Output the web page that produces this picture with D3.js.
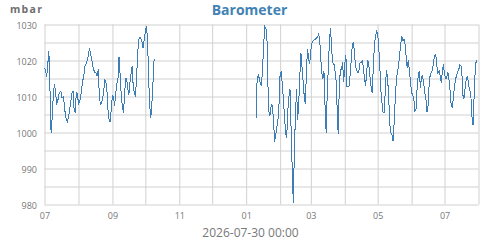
<!DOCTYPE html>
<html>
<head>
<meta charset="utf-8">
<script src="https://cdn.jsdelivr.net/npm/d3@7"></script>
<style>
	body { margin: 0; background: #fff; }
	text { font-family: "Open Sans", sans-serif; }
</style>
</head>
<body>
<script>
// daily barometer readings, mbar
var seg1Start = "2025-07-01";
var seg1Values = [
	1018, 1017, 1015.5, 1019, 1022.5, 1012, 1000, 1004, 1010, 1013.5,
	1011.5, 1008, 1008.5, 1010.5, 1011.2, 1011.3, 1009.5, 1010, 1008, 1005,
	1003.5, 1003, 1004.5, 1006.5, 1008.5, 1011, 1011.5, 1006.5, 1005.5, 1011,
	1010.8, 1008, 1008.5, 1010, 1012.5, 1014.5, 1016, 1018.5, 1019, 1020,
	1021.5, 1023.4, 1022, 1020.5, 1018.5, 1017.3, 1016.7, 1016.5, 1015.6, 1017.5,
	1010.5, 1007.6, 1008.4, 1009.2, 1011.5, 1014.6, 1014.1, 1011.5, 1006, 1003.5,
	1002.8, 1007, 1010.5, 1009.5, 1007.5, 1011, 1013.5, 1014.6, 1021, 1016,
	1010.5, 1007.5, 1005.5, 1010, 1015, 1015, 1012, 1010.5, 1014, 1016.5,
	1018.5, 1012.5, 1011, 1010, 1015, 1022, 1025.8, 1026.5, 1026, 1025,
	1023.4, 1026, 1028, 1029.5, 1026, 1015, 1007.5, 1004, 1008.1, 1014,
	1020.3
];

var seg2Start = "2026-01-10";
var seg2Values = [
	1004, 1014.6, 1016, 1015, 1013.3, 1013, 1018, 1024.5, 1029.5, 1029, 1026,
	1012, 1004.8, 1005, 1008, 1007.2, 1003, 997.5, 999.5, 1001.5, 1003.5,
	1008, 1016.5, 1016.8, 1013.5, 1009, 1004.3, 1000, 998.5, 1006, 1010,
	1012, 1001, 990, 980.5, 995, 1005, 1012, 1003.5, 1008.5, 1016,
	1022, 1018, 1014, 1010, 1008, 1017, 1023.2, 1020.5, 1019, 1023,
	1024.8, 1025.4, 1025.7, 1025.8, 1026.2, 1026.5, 1027.2, 1026.5, 1021, 1016.5,
	1015, 1017, 1007, 1000, 1011, 1018, 1025.5, 1029, 1023, 1019.3,
	1019.2, 1017.3, 1014.5, 1006.8, 999.5, 1013, 1017.4, 1017.5, 1019.5, 1014,
	1019, 1021.5, 1012.8, 1012.6, 1013, 1016.5, 1020.7, 1024.8, 1025, 1021.3,
	1018, 1017.2, 1016.5, 1017.3, 1019.5, 1019.5, 1019.8, 1018, 1015, 1013,
	1017, 1020.2, 1018.5, 1015.5, 1012.8, 1011, 1018, 1024.3, 1026.8, 1028.2,
	1027.5, 1023.6, 1018, 1011.5, 1008, 1005.5, 1005.5, 1012, 1017.4, 1015,
	1010.5, 1002.5, 1000, 999.5, 997.6, 1002.5, 1009, 1014.5, 1016.8, 1018.3,
	1021.5, 1024.5, 1026.7, 1025.5, 1026, 1024.4, 1021, 1017.8, 1020.2, 1017,
	1013.8, 1011, 1010.5, 1009.2, 1006, 1006.5, 1012.5, 1015.8, 1017, 1012.5,
	1015.3, 1015.8, 1013.5, 1011, 1009.3, 1005.8, 1007.5, 1013.5, 1016.2, 1016.8,
	1017.4, 1019.8, 1021.5, 1021.7, 1018.4, 1016.4, 1017.2, 1015.8, 1013.9, 1016.8,
	1019, 1016, 1015.1, 1015.1, 1016.9, 1015, 1011.7, 1008, 1006.8, 1009.5,
	1012.6, 1014.6, 1016, 1016.9, 1017.5, 1018.8, 1018.6, 1015.5, 1009.5, 1009.8,
	1013.2, 1015.1, 1015.5, 1013.2, 1011.8, 1010.5, 1004.4, 1002, 1010, 1017.4,
	1020.2
];

var xDomain = ["2025-07-01", "2026-08-01"];
var yTicks = [980, 990, 1000, 1010, 1020, 1030];
var yGrid = [980, 985, 990, 995, 1000, 1005, 1010, 1015, 1020, 1025, 1030];

var title = "Barometer",
	unitLabel = "mbar",
	bottomLabel = "2026-07-30 00:00";

var width		= 500,
	height		= 240,
	plotLeft	= 44.5,
	plotRight	= 478.5,
	plotTop		= 24.5,
	plotBottom	= 204.5,
	gridColor	= "#d0d0d0",
	lineColor	= "#3d7eb6",
	titleColor	= "#4282b4",
	textColor	= "#787878";

var parse = d3.timeParse("%Y-%m-%d");

function toPoints(start, values) {
	var d0 = parse(start);
	return values.map(function(v, i) {
		return { date: d3.timeDay.offset(d0, i), value: v };
	});
}

var segments = [toPoints(seg1Start, seg1Values), toPoints(seg2Start, seg2Values)];

var x = d3.scaleTime()
	.domain(xDomain.map(parse))
	.range([plotLeft, plotRight]);

var y = d3.scaleLinear()
	.domain([980, 1030])
	.range([plotBottom, plotTop]);

var svg = d3.select("body")
	.append("svg")
	.attr("width", width)
	.attr("height", height);

// grid
svg.append("g")
	.attr("transform", "translate(0," + plotBottom + ")")
	.call(d3.axisBottom(x).ticks(d3.timeMonth.every(1)).tickSize(-(plotBottom - plotTop)).tickFormat(""))
	.call(function(g) { g.select(".domain").remove(); })
	.selectAll("line")
	.attr("stroke", gridColor);

svg.append("g")
	.attr("transform", "translate(" + plotLeft + ",0)")
	.call(d3.axisLeft(y).tickValues(yGrid).tickSize(-(plotRight - plotLeft)).tickFormat(""))
	.call(function(g) { g.select(".domain").remove(); })
	.selectAll("line")
	.attr("stroke", gridColor);

// tick labels
var yAxis = svg.append("g")
	.attr("transform", "translate(" + plotLeft + ",0)")
	.call(d3.axisLeft(y).tickValues(yTicks).tickFormat(d3.format("d")).tickSize(0).tickPadding(7.5));
yAxis.select(".domain").remove();
yAxis.selectAll("text")
	.attr("dy", "0.42em")
	.attr("fill", textColor)
	.style("font-size", "9px")
	.style("font-family", "'Open Sans', sans-serif");

var xAxis = svg.append("g")
	.attr("transform", "translate(0," + plotBottom + ")")
	.call(d3.axisBottom(x).ticks(d3.timeMonth.every(2)).tickFormat(d3.timeFormat("%m")).tickSize(0).tickPadding(8.6));
xAxis.select(".domain").remove();
xAxis.selectAll("text")
	.attr("fill", textColor)
	.style("font-size", "9px")
	.style("font-family", "'Open Sans', sans-serif");

// data
var line = d3.line()
	.x(function(d) { return x(d.date); })
	.y(function(d) { return y(d.value); });

svg.selectAll(".seg")
	.data(segments)
	.enter()
	.append("path")
	.attr("class", "seg")
	.attr("d", line)
	.attr("fill", "none")
	.attr("stroke", lineColor)
	.attr("stroke-width", 1)
	.attr("shape-rendering", "crispEdges");

// labels
svg.append("text")
	.attr("x", 249.5)
	.attr("y", 15)
	.attr("text-anchor", "middle")
	.attr("fill", titleColor)
	.style("font-size", "14px")
	.style("font-weight", "bold")
	.text(title);

svg.append("text")
	.attr("x", 10)
	.attr("y", 12.7)
	.attr("fill", "#6e6e6e")
	.style("font-size", "10.5px")
	.style("font-weight", "bold")
	.style("letter-spacing", "1.3px")
	.text(unitLabel);

svg.append("text")
	.attr("x", 250.5)
	.attr("y", 236.5)
	.attr("text-anchor", "middle")
	.attr("fill", textColor)
	.style("font-size", "12px")
	.text(bottomLabel);
</script>
</body>
</html>
